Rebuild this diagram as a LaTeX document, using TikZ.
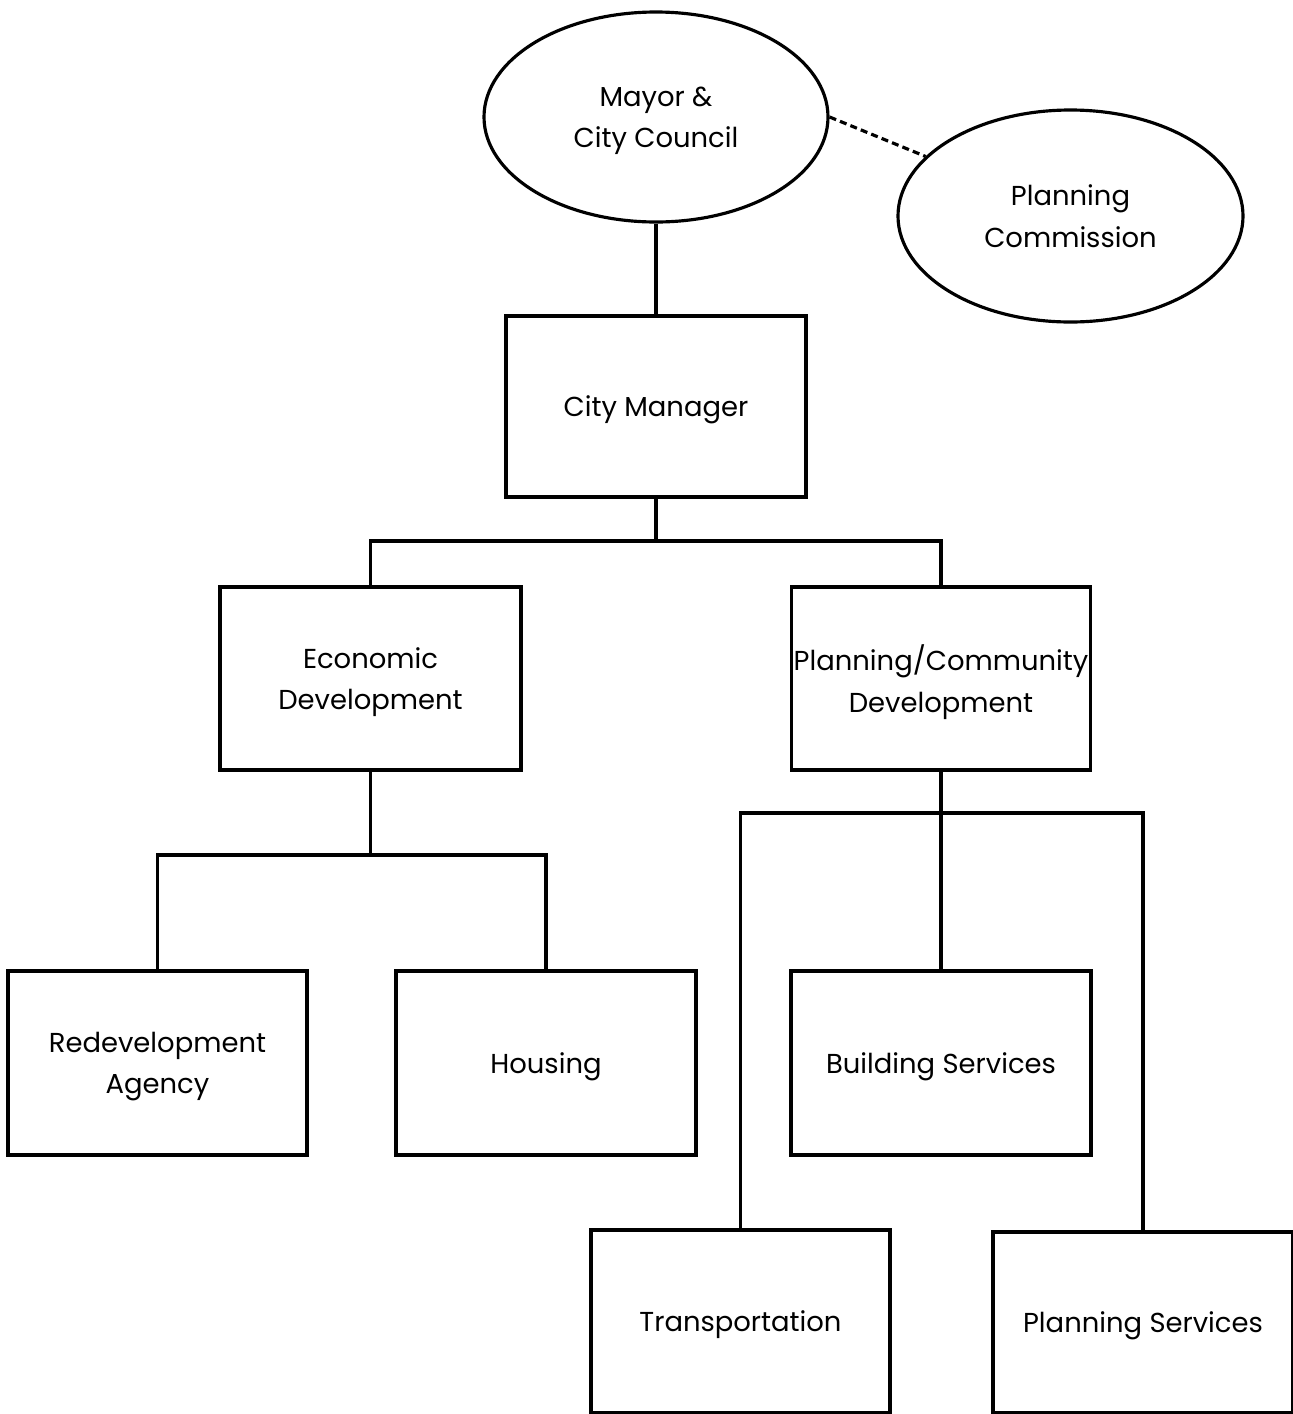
\documentclass[tikz,border=0pt]{standalone}
\usepackage{fontspec}
\setmainfont{Poppins}
\usepackage{tikz}
\usetikzlibrary{shapes.geometric}

\begin{document}
\begin{tikzpicture}[line width=0.9pt,
  office/.style={draw, rectangle, inner sep=0pt, text depth=0pt, align=center, font=\fontsize{7.8}{11.8}\selectfont},
  board/.style={draw, ellipse, inner sep=0pt, text depth=0pt, align=center, font=\fontsize{7.8}{11.8}\selectfont}]
  \useasboundingbox (0,0) rectangle (12.93,-14.14);
  \node[board, minimum width=3.44cm, minimum height=2.10cm] (mayor) at (6.56,-1.17) {Mayor \&\\City Council};
  \node[board, minimum width=3.45cm, minimum height=2.12cm] (commission) at (10.705,-2.16) {Planning\\Commission};
  \node[office, minimum width=3.00cm, minimum height=1.81cm] (citymgr) at (6.56,-4.065) {City Manager};
  \node[office, minimum width=3.01cm, minimum height=1.83cm] (econ) at (3.705,-6.785) {Economic\\Development};
  \node[office, minimum width=2.99cm, minimum height=1.83cm] (pcd) at (9.41,-6.785) {Planning/Community\\Development};
  \node[office, minimum width=2.99cm, minimum height=1.84cm] (redev) at (1.575,-10.63) {Redevelopment\\Agency};
  \node[office, minimum width=3.00cm, minimum height=1.84cm] (housing) at (5.46,-10.63) {Housing};
  \node[office, minimum width=3.00cm, minimum height=1.84cm] (bldg) at (9.41,-10.63) {Building Services};
  \node[office, minimum width=2.99cm, minimum height=1.83cm] (transp) at (7.405,-13.215) {Transportation};
  \node[office, minimum width=3.00cm, minimum height=1.81cm] (plansvc) at (11.43,-13.225) {Planning Services};

  \coordinate (cmsplit) at (6.56,-5.41);
  \coordinate (edsplit) at (3.705,-8.55);
  \coordinate (pcdsplit) at (9.41,-8.13);

  \draw[dash pattern=on 2pt off 1.2pt] (mayor.east) -- (commission);
  \draw (mayor.south) -- (citymgr.north);
  \draw (citymgr.south) -- (cmsplit);
  \draw (econ.north) |- (cmsplit) -| (pcd.north);
  \draw (econ.south) -- (edsplit);
  \draw (redev.north) |- (edsplit) -| (housing.north);
  \draw (pcd.south) -- (bldg.north);
  \draw (transp.north) |- (pcdsplit) -| (plansvc.north);
\end{tikzpicture}
\end{document}
